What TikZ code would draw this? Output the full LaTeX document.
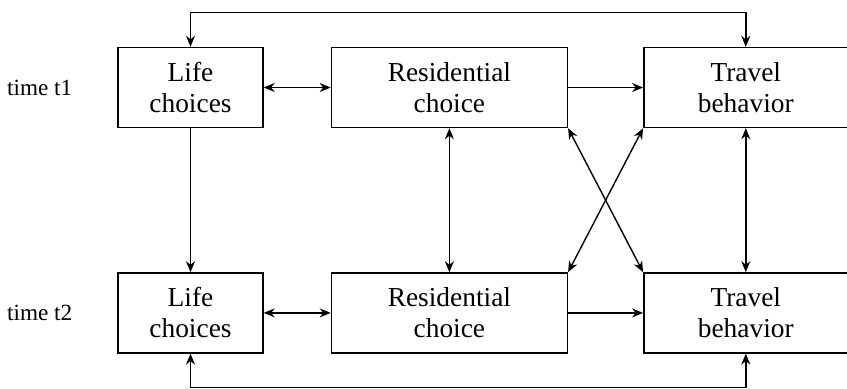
\documentclass[tikz,border=0pt]{standalone}
\usepackage{fontspec}
\setmainfont{Liberation Serif}
\usetikzlibrary{positioning,arrows.meta}
\tikzset{
  cbox/.style={draw,rectangle,line width=0.7pt,minimum height=40pt,
               align=center,font=\fontsize{13.7}{15.5}\selectfont,inner sep=2pt},
  tlabel/.style={font=\fontsize{11.6}{13}\selectfont},
  arr/.style={-{Stealth[length=5.5pt,width=4.5pt]},line width=0.7pt},
  darr/.style={{Stealth[length=5.5pt,width=4.5pt]}-{Stealth[length=5.5pt,width=4.5pt]},line width=0.7pt},
}
\begin{document}
\begin{tikzpicture}[node distance=33.5pt]
  \useasboundingbox (-95.25pt,43.75pt) rectangle (328.25pt,-150.25pt);
  % time t1
  \node[cbox,minimum width=72.5pt] (lc1) at (0,0) {Life\\choices};
  \node[cbox,minimum width=118pt,right=of lc1] (rc1) {Residential\\choice};
  \node[cbox,minimum width=102pt,right=37.5pt of rc1] (tb1) {Travel\\behavior};
  % time t2
  \node[cbox,minimum width=72.5pt,below=72pt of lc1] (lc2) {Life\\choices};
  \node[cbox,minimum width=118pt,right=of lc2] (rc2) {Residential\\choice};
  \node[cbox,minimum width=102pt,right=37.5pt of rc2] (tb2) {Travel\\behavior};
  \node[tlabel,left=19pt of lc1] (t1) {time t1};
  \node[tlabel,left=19pt of lc2] (t2) {time t2};
  % same time
  \draw[darr] (lc1)--(rc1);
  \draw[arr] (rc1)--(tb1);
  \draw[darr] (lc2)--(rc2);
  \draw[arr] (rc2)--(tb2);
  % over time
  \draw[arr] (lc1)--(lc2);
  \draw[darr] (rc1)--(rc2);
  \draw[darr] (tb1)--(tb2);
  \draw[darr] (rc1.south east)--(tb2.north west);
  \draw[darr] (tb1.south west)--(rc2.north east);
  \draw[darr] (lc1.north)--++(0,17.25pt) -| (tb1.north);
  \draw[darr] (lc2.south)--++(0,-17pt) -| (tb2.south);
\end{tikzpicture}
\end{document}
